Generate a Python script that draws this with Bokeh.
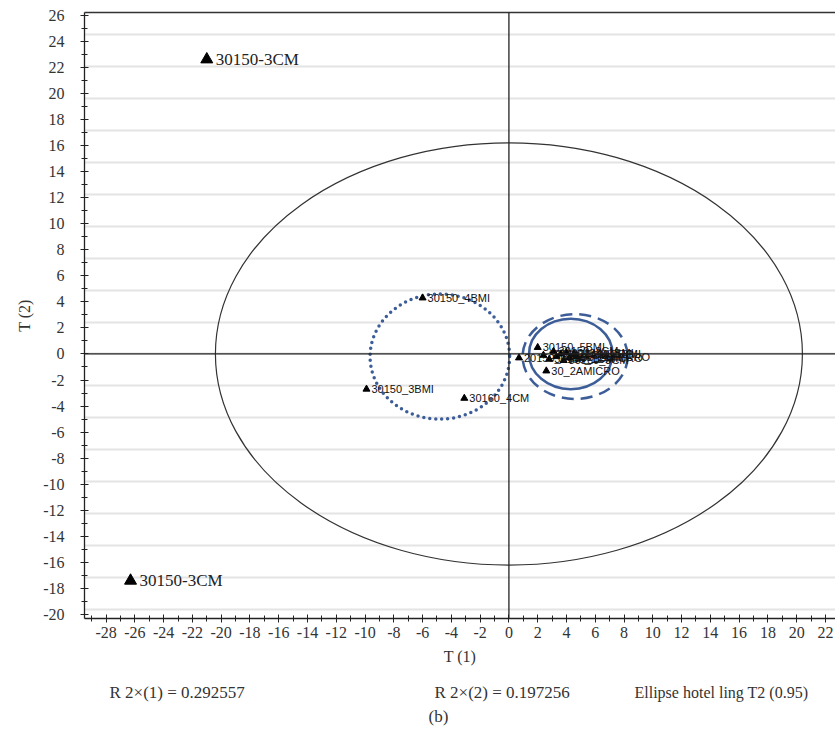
from bokeh.plotting import figure
from bokeh.layouts import column
from bokeh.models import (Range1d, SingleIntervalTicker, FixedTicker, LinearAxis,
                          Span, Label, ColumnDataSource, NumeralTickFormatter)
from bokeh.core.properties import value
from bokeh.embed import file_html
from bokeh.resources import INLINE

# ---- data ----
out_x = [-21.0, -26.3]
out_y = [22.6, -17.4]
out_lab = ["30150-3CM", "30150-3CM"]

pt_x = [-6.0, -9.9, -3.1, 2.0, 0.7, 2.6,
        2.4, 2.8, 3.1, 3.3, 3.6, 3.8, 4.0, 4.2, 4.5, 4.7]
pt_y = [4.3, -2.7, -3.4, 0.5, -0.3, -1.3,
        -0.1, -0.4, 0.2, -0.2, 0.0, -0.5, 0.1, -0.3, 0.0, -0.2]
pt_lab = ["30150_4BMI", "30150_3BMI", "30160_4CM", "30150_5BMI", "20150_1CM", "30_2AMICRO",
          "30150_1CM", "30160_1CM", "30150_2CM", "30160_2BMI", "30_1AMICRO", "30160_3CM",
          "30150_1BMI", "30_1BMICRO", "30160_1BMI", "30_2BMICRO"]

# ellipses: Hotelling T2 and group circles (center x, center y, width, height)
hot_ell = [0.0, 0.0, 40.8, 32.4]
dot_ell = [-4.8, -0.2, 9.7, 9.6]
solid_ell = [4.3, 0.0, 5.8, 5.4]
dash_ell = [4.6, -0.2, 7.3, 6.5]

x_ticks_interval = 2
y_ticks_interval = 2

r2_1 = "R 2\u00d7(1) = 0.292557"
r2_2 = "R 2\u00d7(2) = 0.197256"
ell_txt = "Ellipse hotel ling T2 (0.95)"
panel_tag = "(b)"

serif = "Liberation Serif"
sans = "Liberation Sans"

p = figure(width=835, height=670,
           x_range=Range1d(-29.5, 22.7), y_range=Range1d(-20.3, 26.2),
           output_backend="svg", toolbar_location=None,
           min_border_left=84, min_border_right=0, min_border_top=12, min_border_bottom=52)

p.outline_line_color = None
p.background_fill_color = "white"
p.border_fill_color = "white"

# axes styling
for ax in (p.xaxis[0], p.yaxis[0]):
    ax.axis_line_color = "#222222"
    ax.axis_line_width = 1.3
    ax.major_tick_line_color = "#222222"
    ax.minor_tick_line_color = "#222222"
    ax.major_tick_in = 4
    ax.major_tick_out = 4
    ax.minor_tick_in = 3
    ax.minor_tick_out = 3
    ax.major_label_text_font = serif
    ax.major_label_text_font_size = "16px"
    ax.major_label_text_color = "#333333"
    ax.axis_label_text_font = serif
    ax.axis_label_text_font_size = "16px"
    ax.axis_label_text_font_style = "normal"
    ax.axis_label_text_color = "#333333"
    ax.formatter = NumeralTickFormatter(format="0")

p.xaxis[0].ticker = SingleIntervalTicker(interval=x_ticks_interval, num_minor_ticks=2)
p.yaxis[0].ticker = SingleIntervalTicker(interval=y_ticks_interval, num_minor_ticks=2)
p.xaxis[0].axis_label = "T (1)"
p.yaxis[0].axis_label = "T (2)"
p.xaxis[0].major_label_standoff = 4
p.xaxis[0].axis_label_standoff = 7
p.yaxis[0].major_label_standoff = 16
p.yaxis[0].axis_label_standoff = 7

# top border
top = LinearAxis(ticker=FixedTicker(ticks=[]), major_label_text_font_size="0px",
                 major_tick_out=0, minor_tick_out=0, major_tick_in=0, minor_tick_in=0,
                 major_label_standoff=0, axis_line_color="#333333", axis_line_width=1.3)
p.add_layout(top, "above")

# grid
p.xgrid.visible = False
p.ygrid.ticker = FixedTicker(ticks=[k * 2.45 for k in range(-8, 11)])
p.ygrid.grid_line_color = "#e4e4e4"
p.ygrid.grid_line_width = 2

# zero lines
p.add_layout(Span(location=0, dimension="height", line_color="#222222", line_width=1.3))
p.add_layout(Span(location=0, dimension="width", line_color="#222222", line_width=1.3))

# ellipses
p.ellipse(x=[hot_ell[0]], y=[hot_ell[1]], width=[hot_ell[2]], height=[hot_ell[3]],
          fill_color=None, line_color="#333333", line_width=1.2)
blue = "#3c5d98"
p.ellipse(x=[dot_ell[0]], y=[dot_ell[1]], width=[dot_ell[2]], height=[dot_ell[3]],
          fill_color=None, line_color=blue, line_width=3.5, line_dash="0 6", line_cap="round")
p.ellipse(x=[solid_ell[0]], y=[solid_ell[1]], width=[solid_ell[2]], height=[solid_ell[3]],
          fill_color=None, line_color=blue, line_width=2.5)
p.ellipse(x=[dash_ell[0]], y=[dash_ell[1]], width=[dash_ell[2]], height=[dash_ell[3]],
          fill_color=None, line_color=blue, line_width=2.5, line_dash="12 7")

# points
src_pt = ColumnDataSource(dict(x=pt_x, y=pt_y, lab=pt_lab))
p.scatter(x="x", y="y", source=src_pt, marker="triangle", size=7,
          fill_color="black", line_color="black")
p.text(x="x", y="y", text="lab", source=src_pt, text_font=value(sans),
       text_font_size="11px", text_color="#111111", x_offset=5, text_baseline="middle")

src_out = ColumnDataSource(dict(x=out_x, y=out_y, lab=out_lab))
p.scatter(x="x", y="y", source=src_out, marker="triangle", size=12,
          fill_color="black", line_color="black")
p.text(x="x", y="y", text="lab", source=src_out, text_font=value(serif),
       text_font_size="17px", text_color="#222222", x_offset=9, text_baseline="middle")

# caption strip below the chart (its frame is aligned with the chart frame, left edge x=84)
cap = figure(width=835, height=67, output_backend="svg", toolbar_location=None,
             x_range=Range1d(0, 1), y_range=Range1d(0, 1), min_border=0)
cap.axis.visible = False
cap.grid.visible = False
cap.outline_line_color = None
for t, sx, fs in [(r2_1, 25, "17px"), (r2_2, 350, "17px"), (ell_txt, 550, "16px")]:
    cap.add_layout(Label(x=sx, y=45, x_units="screen", y_units="screen", text=t,
                         text_font=serif, text_font_size=fs, text_color="#333333",
                         text_baseline="middle"))
cap.add_layout(Label(x=354, y=21, x_units="screen", y_units="screen", text=panel_tag,
                     text_font=serif, text_font_size="17px", text_color="#333333",
                     text_align="center", text_baseline="middle"))

layout = column(p, cap, spacing=0)
open("out.html", "w").write(file_html(layout, INLINE))
